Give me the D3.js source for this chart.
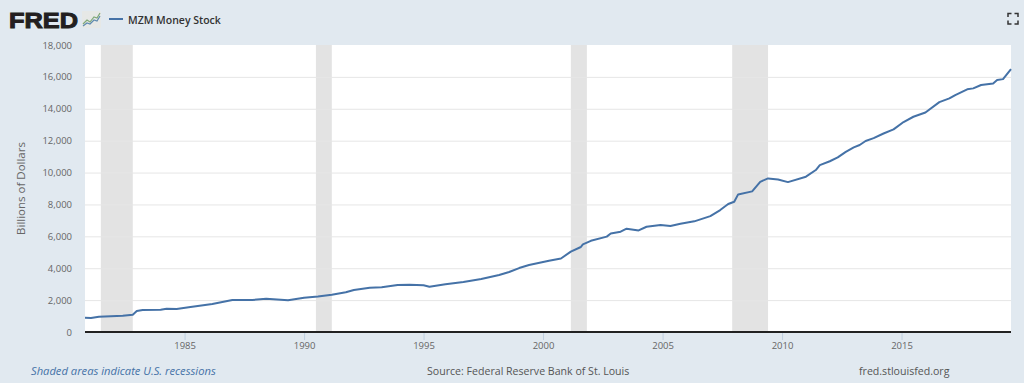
<!DOCTYPE html>
<html>
<head>
<meta charset="utf-8">
<script src="https://cdn.jsdelivr.net/npm/d3@7"></script>
<style>
  html, body { margin: 0; padding: 0; background: #e1e9f0; overflow: hidden; }
  text { font-family: "Open Sans", sans-serif; }
  .axis-x .domain, .axis-y .domain { display: none; }
  .axis-y .tick line { stroke: #e6e6e6; }
  .axis-x .tick line { stroke: #c0d0e0; }
  .tick text { fill: #666; font-size: 9.5px; font-family: "Open Sans", sans-serif; }
</style>
</head>
<body>
<div id="chart"></div>
<script>
// MZM Money Stock, billions of dollars
var dates = ["1980-11","1981-02","1981-06","1982-06","1982-11","1983-01","1983-04","1984-01","1984-04","1984-09",
  "1985-04","1986-03","1987-01","1987-11","1988-06","1989-05","1990-01","1990-08","1991-03","1991-10",
  "1992-02","1992-10","1993-04","1993-12","1994-06","1995-01","1995-04","1995-12","1996-09","1997-06",
  "1998-03","1998-08","1999-01","1999-06","2000-04","2000-10","2001-03","2001-08","2001-09","2002-01",
  "2002-09","2002-11","2003-04","2003-07","2004-01","2004-05","2004-12","2005-05","2005-10","2006-05",
  "2007-01","2007-06","2007-10","2008-01","2008-03","2008-10","2009-02","2009-06","2009-11","2010-04",
  "2011-01","2011-06","2011-08","2012-01","2012-05","2012-09","2013-01","2013-04","2013-07","2013-11",
  "2014-04","2014-09","2015-02","2015-07","2016-01","2016-08","2017-01","2017-04","2017-10","2018-01",
  "2018-05","2018-11","2019-01","2019-04","2019-08"];
var values = [900,880,960,1020,1085,1315,1380,1400,1460,1440,
  1570,1755,2005,2005,2090,1985,2150,2225,2340,2490,
  2635,2780,2800,2950,2970,2930,2840,2990,3135,3320,
  3575,3760,4010,4200,4470,4610,5040,5330,5500,5720,
  5980,6180,6290,6480,6370,6600,6710,6650,6790,6940,
  7270,7650,8030,8170,8630,8820,9420,9630,9570,9400,
  9740,10160,10470,10710,10950,11300,11580,11730,11980,12160,
  12450,12710,13170,13500,13770,14420,14650,14860,15220,15280,
  15490,15590,15800,15860,16490];

var recessionStart = ["1981-07","1990-07","2001-03","2007-12"];
var recessionEnd = ["1982-11","1991-03","2001-11","2009-06"];
var yTicks = [0,2000,4000,6000,8000,10000,12000,14000,16000,18000];
var xTicks = [1985,1990,1995,2000,2005,2010,2015];

var parse = d3.timeParse("%Y-%m");
var width = 1024, height = 383;
var margin = {top: 45, right: 13, bottom: 51, left: 85};

var svg = d3.select("#chart")
  .append("svg")
    .attr("width", width)
    .attr("height", height)
    .style("display", "block");

svg.append("rect")
  .attr("width", width).attr("height", height)
  .attr("fill", "#e1e9f0");

var x = d3.scaleTime()
  .domain([parse("1980-11"), parse("2019-08")])
  .range([margin.left, width - margin.right]);

var y = d3.scaleLinear()
  .domain([0, 18000])
  .range([height - margin.bottom, margin.top]);

svg.append("rect")
  .attr("x", margin.left).attr("y", margin.top)
  .attr("width", width - margin.left - margin.right)
  .attr("height", height - margin.top - margin.bottom)
  .attr("fill", "#fff");

svg.append("g")
    .attr("class", "recessions")
  .selectAll("rect")
    .data(recessionStart)
  .enter().append("rect")
    .attr("x", d => x(parse(d)))
    .attr("width", (d, i) => x(parse(recessionEnd[i])) - x(parse(d)))
    .attr("y", margin.top)
    .attr("height", height - margin.top - margin.bottom)
    .attr("fill", "#e3e3e3");

svg.append("g")
  .attr("class", "axis-y")
  .attr("transform", `translate(${margin.left},0)`)
  .call(d3.axisLeft(y).tickValues(yTicks).tickFormat(d3.format(",")).tickSize(-(width - margin.left - margin.right)).tickPadding(13))
  .call(g => g.selectAll(".tick line").filter(d => d === 18000 || d === 0).remove());

svg.append("g")
  .attr("class", "axis-x")
  .attr("transform", `translate(0,${height - margin.bottom})`)
  .call(d3.axisBottom(x).tickValues(xTicks.map(d => new Date(d, 0, 1))).tickFormat(d3.timeFormat("%Y")).tickSize(8).tickPadding(2));

svg.append("line")
  .attr("x1", margin.left).attr("x2", width - margin.right)
  .attr("y1", y(0)).attr("y2", y(0))
  .attr("stroke", "#222").attr("stroke-width", 2);

var line = d3.line()
  .x((d, i) => x(parse(dates[i])))
  .y(d => y(d));

svg.append("path")
  .datum(values)
  .attr("d", line)
  .attr("fill", "none")
  .attr("stroke", "#4572a7")
  .attr("stroke-width", 2)
  .attr("stroke-linejoin", "round");

svg.append("text")
  .attr("transform", "translate(25,188.5) rotate(-90)")
  .attr("text-anchor", "middle")
  .attr("fill", "#666")
  .style("font-size", "11.5px")
  .text("Billions of Dollars");

// header
svg.append("text")
  .attr("x", 9).attr("y", 28)
  .attr("fill", "#231f20")
  .style("font-family", "'Liberation Sans', sans-serif")
  .style("font-size", "22.5px")
  .style("font-weight", "bold")
  .attr("stroke", "#231f20").attr("stroke-width", 1)
  .attr("textLength", 69).attr("lengthAdjust", "spacingAndGlyphs")
  .text("FRED");

var icon = svg.append("g").attr("transform", "translate(82,11)");
icon.append("rect").attr("width", 19).attr("height", 17).attr("rx", 1).attr("fill", "#e6e8e6");
icon.append("path").attr("d", "M1,13L5,9L8,11L12,6L15,7L18,2").attr("fill", "none").attr("stroke", "#7fa878").attr("stroke-width", 1.2);
icon.append("path").attr("d", "M1,15L5,12L8,13L12,9L15,10L18,5").attr("fill", "none").attr("stroke", "#5f8bb0").attr("stroke-width", 1.2);

svg.append("line")
  .attr("x1", 109).attr("x2", 123).attr("y1", 19).attr("y2", 19)
  .attr("stroke", "#4572a7").attr("stroke-width", 2);

svg.append("text")
  .attr("x", 128).attr("y", 24)
  .attr("fill", "#333")
  .style("font-size", "10.5px")
  .style("font-weight", "600")
  .text("MZM Money Stock");

// fullscreen corners
svg.append("path")
  .attr("d", "M1008,17v-3.5h3.5M1014.5,13.5h3.5v3.5M1018,20.500v3.500h-3.500M1011.500,24h-3.500v-3.500")
  .attr("fill", "none")
  .attr("stroke", "#333")
  .attr("stroke-width", 1.5);

// footer
svg.append("text")
  .attr("x", 31).attr("y", 375)
  .attr("fill", "#4572a7")
  .style("font-size", "11.2px")
  .style("font-style", "italic")
  .text("Shaded areas indicate U.S. recessions");

svg.append("text")
  .attr("x", 427).attr("y", 375)
  .attr("fill", "#555")
  .style("font-size", "10.6px")
  .text("Source: Federal Reserve Bank of St. Louis");

svg.append("text")
  .attr("x", 859).attr("y", 375)
  .attr("fill", "#555")
  .style("font-size", "10.6px")
  .text("fred.stlouisfed.org");
</script>
</body>
</html>
